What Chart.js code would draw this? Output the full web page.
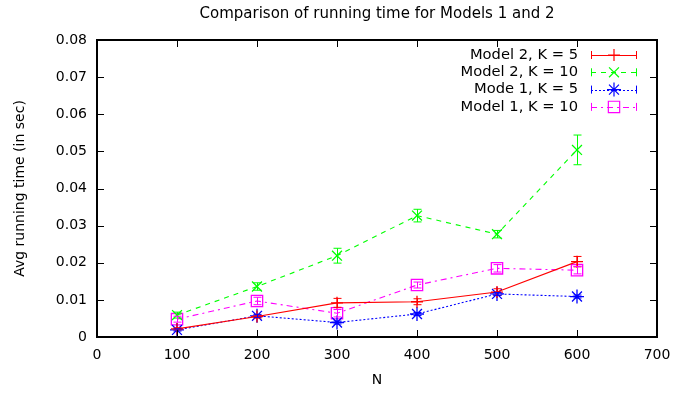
<!DOCTYPE html>
<html>
<head>
<meta charset="utf-8">
<script src="https://cdn.jsdelivr.net/npm/chart.js@4.4.1/dist/chart.umd.min.js"></script>
<style>
  html, body { margin: 0; padding: 0; background: #fff; }
  #wrap { width: 689px; height: 393px; }
</style>
</head>
<body>
<div id="wrap"><canvas id="chart"></canvas></div>
<script>
// data
const nValues = [100, 200, 300, 400, 500, 600];
const xTicks = [0, 100, 200, 300, 400, 500, 600, 700];
const yTicks = [0, 0.01, 0.02, 0.03, 0.04, 0.05, 0.06, 0.07, 0.08];

const model2k5 = [0.0022, 0.0055, 0.0092, 0.0095, 0.0121, 0.0203];
const model2k5Err = [0.0003, 0.0004, 0.0012, 0.0008, 0.0009, 0.0014];

const model2k10 = [0.0059, 0.0136, 0.0219, 0.0327, 0.0277, 0.0504];
const model2k10Err = [0.0008, 0.0010, 0.0020, 0.0017, 0.0010, 0.0040];

const model1k5 = [0.0019, 0.0057, 0.0039, 0.0062, 0.0116, 0.0109];
const model1k5Err = [0.0003, 0.0004, 0.0004, 0.0004, 0.0004, 0.0004];

const model1k10 = [0.0048, 0.0097, 0.0064, 0.0140, 0.0185, 0.0180];
const model1k10Err = [0.0008, 0.0010, 0.0010, 0.0008, 0.0010, 0.0010];

const FONT = "'DejaVu Sans', sans-serif";

function pts(vals) {
    return vals.map((v, i) => ({ x: nValues[i], y: v }));
}

const series = [
    { label: 'Model 2, K = 5',  data: model2k5,  err: model2k5Err,  color: '#ff0000', dash: [],          style: 'cross',    r: 6 },
    { label: 'Model 2, K = 10', data: model2k10, err: model2k10Err, color: '#00ff00', dash: [5, 5],      style: 'crossRot', r: 7 },
    { label: 'Mode 1, K = 5',   data: model1k5,  err: model1k5Err,  color: '#0000ff', dash: [2, 2],      style: 'star',     r: 7 },
    { label: 'Model 1, K = 10', data: model1k10, err: model1k10Err, color: '#ff00ff', dash: [6, 4, 2, 4], style: 'rect',    r: 8 }
];

// error bars, frame with inward ticks, legend and title
const gnuplotLook = {
    id: 'gnuplotLook',
    afterDatasetsDraw(chart) {
        const ctx = chart.ctx;
        const xs = chart.scales.x, ys = chart.scales.y;
        ctx.save();
        ctx.lineWidth = 1;
        ctx.setLineDash([]);
        series.forEach(s => {
            ctx.strokeStyle = s.color;
            s.data.forEach((v, i) => {
                const px = Math.round(xs.getPixelForValue(nValues[i])) + 0.5;
                const top = ys.getPixelForValue(v + s.err[i]);
                const bot = ys.getPixelForValue(v - s.err[i]);
                ctx.beginPath();
                ctx.moveTo(px, top); ctx.lineTo(px, bot);
                ctx.moveTo(px - 4, top); ctx.lineTo(px + 4, top);
                ctx.moveTo(px - 4, bot); ctx.lineTo(px + 4, bot);
                ctx.stroke();
            });
        });
        ctx.restore();
    },
    afterDraw(chart) {
        const ctx = chart.ctx;
        const a = chart.chartArea;
        const xs = chart.scales.x, ys = chart.scales.y;
        ctx.save();
        ctx.strokeStyle = '#000';
        ctx.lineWidth = 2;
        ctx.setLineDash([]);
        ctx.strokeRect(a.left, a.top, a.right - a.left, a.bottom - a.top);
        ctx.lineWidth = 1;
        const tl = 7;
        ctx.beginPath();
        xTicks.forEach(t => {
            const px = Math.round(xs.getPixelForValue(t)) + 0.5;
            ctx.moveTo(px, a.bottom); ctx.lineTo(px, a.bottom - tl);
            ctx.moveTo(px, a.top); ctx.lineTo(px, a.top + tl);
        });
        yTicks.forEach(t => {
            const py = Math.round(ys.getPixelForValue(t)) + 0.5;
            ctx.moveTo(a.left, py); ctx.lineTo(a.left + tl, py);
            ctx.moveTo(a.right, py); ctx.lineTo(a.right - tl, py);
        });
        ctx.stroke();

        // title
        ctx.fillStyle = '#000';
        ctx.font = '15px ' + FONT;
        ctx.textAlign = 'center';
        ctx.textBaseline = 'middle';
        ctx.fillText('Comparison of running time for Models 1 and 2', (a.left + a.right) / 2, 14);

        // legend
        chart.data.datasets.forEach((ds, i) => {
            const s = series[i];
            const y = 55 + i * 17.3;
            ctx.fillStyle = '#000';
            ctx.textAlign = 'right';
            ctx.font = '14.7px ' + FONT;
            ctx.fillText(s.label, 578, y);
            ctx.strokeStyle = s.color;
            ctx.lineWidth = 1;
            ctx.setLineDash(s.dash);
            ctx.beginPath();
            ctx.moveTo(591, Math.round(y) + 0.5); ctx.lineTo(636, Math.round(y) + 0.5);
            ctx.stroke();
            ctx.setLineDash([]);
            ctx.beginPath();
            ctx.moveTo(591.5, y - 4); ctx.lineTo(591.5, y + 4);
            ctx.moveTo(636.5, y - 4); ctx.lineTo(636.5, y + 4);
            ctx.stroke();
            ctx.fillStyle = 'rgba(0,0,0,0)';
            ctx.lineWidth = 1.2;
            Chart.helpers.drawPoint(ctx, {
                pointStyle: s.style, radius: s.r, rotation: 0, borderWidth: 1.2
            }, 614, y);
        });
        ctx.restore();
    }
};

new Chart(document.getElementById('chart'), {
    type: 'line',
    data: {
        datasets: series.map(s => ({
            label: s.label,
            data: pts(s.data),
            borderColor: s.color,
            backgroundColor: 'rgba(0,0,0,0)',
            borderWidth: 1.1,
            borderDash: s.dash,
            pointStyle: s.style,
            pointRadius: s.r,
            pointBorderWidth: 1.3,
            pointBorderColor: s.color,
            pointBackgroundColor: 'rgba(0,0,0,0)',
            tension: 0
        }))
    },
    options: {
        responsive: true,
        maintainAspectRatio: false,
        animation: false,
        layout: { padding: { top: 40, right: 32, left: 0, bottom: 0 } },
        plugins: {
            legend: { display: false },
            title: { display: false },
            tooltip: { enabled: false }
        },
        scales: {
            x: {
                type: 'linear',
                min: 0, max: 700,
                afterBuildTicks: s => { s.ticks = xTicks.map(v => ({ value: v })); },
                afterFit: s => { s.height = 56; },
                grid: { display: false, drawTicks: false },
                border: { display: false },
                ticks: { color: '#000', font: { family: FONT, size: 14 }, padding: 10, maxRotation: 0 },
                title: { display: true, text: 'N', color: '#000', font: { family: FONT, size: 14 }, padding: { top: 4 } }
            },
            y: {
                type: 'linear',
                min: 0, max: 0.08,
                afterBuildTicks: s => { s.ticks = yTicks.map(v => ({ value: v })); },
                afterFit: s => { s.width = 97; },
                grid: { display: false, drawTicks: false },
                border: { display: false },
                ticks: {
                    color: '#000', font: { family: FONT, size: 14 }, padding: 10,
                    callback: v => v === 0 ? '0' : v.toFixed(2)
                },
                title: { display: true, text: 'Avg running time (in sec)', color: '#000', font: { family: FONT, size: 14 }, padding: { top: 12, bottom: 0 } }
            }
        }
    },
    plugins: [gnuplotLook]
});
</script>
</body>
</html>
